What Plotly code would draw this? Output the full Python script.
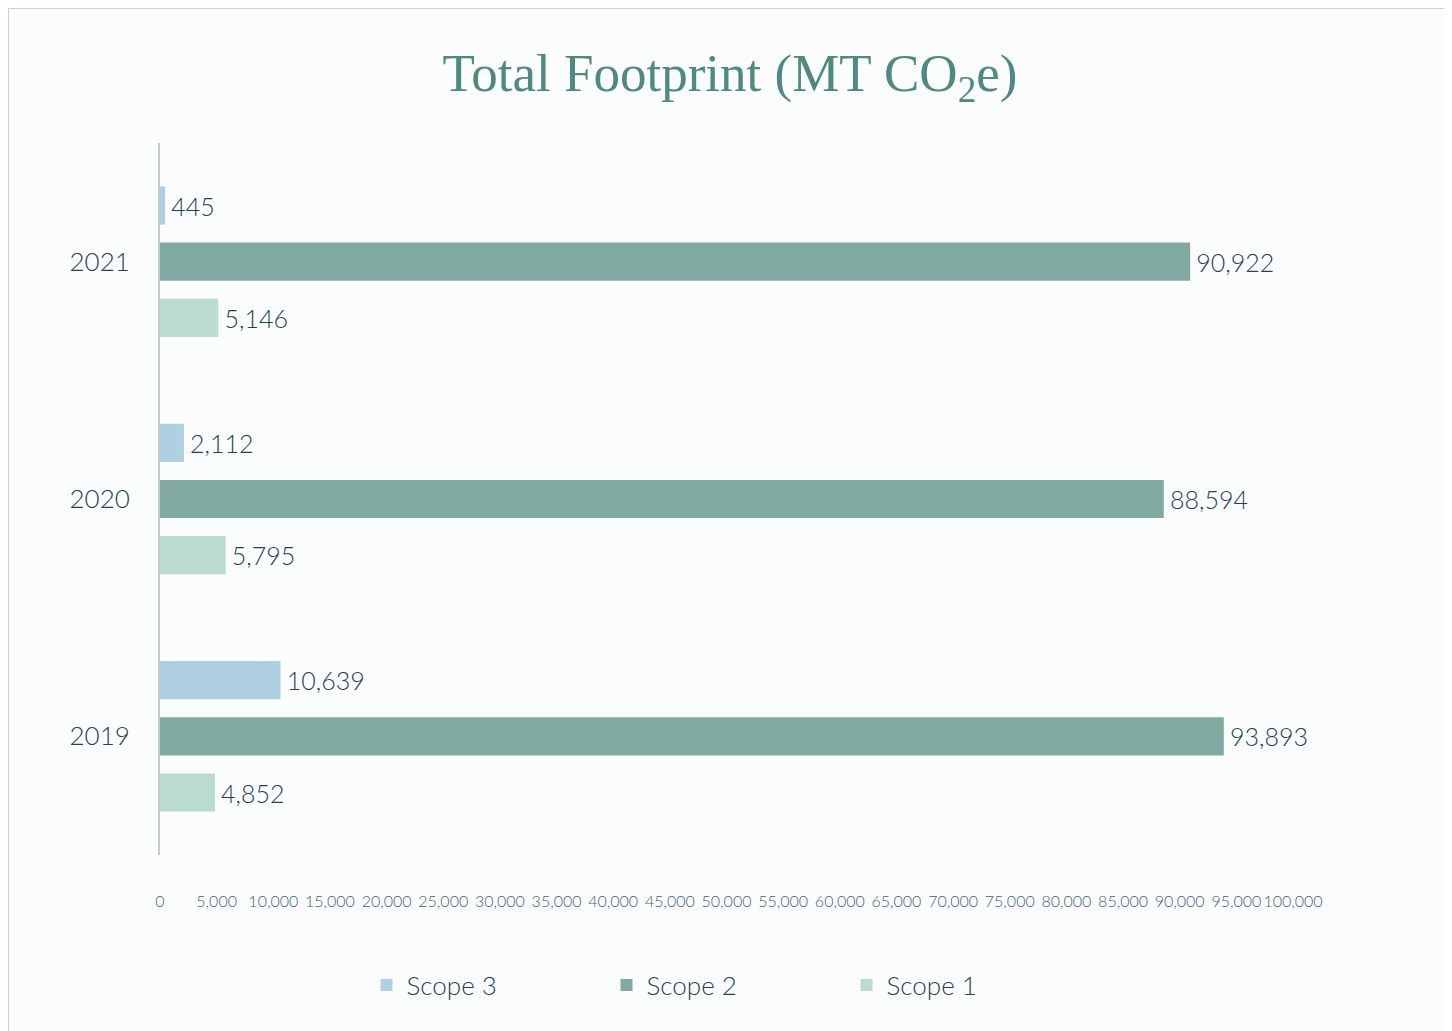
import plotly.graph_objects as go

years = ["2019", "2020", "2021"]
scope1 = [4852, 5795, 5146]
scope2 = [93893, 88594, 90922]
scope3 = [10639, 2112, 445]
series_names = ["Scope 1", "Scope 2", "Scope 3"]
colors = ["#b9dbd2", "#80aaa1", "#aed0e0"]

# page body has an 8px margin; compensate so the figure lands on target pixels
O = 8
W, H = 1452 - O, 1031 - O
ml, mt = 160 - O, 143 - O
pr, pb = 1293 - O, 855 - O
mr, mb = W - pr, H - pb
pw, ph = pr - ml, pb - mt

TXT = "#1f4257"

fig = go.Figure()
for name, vals, col in zip(series_names, [scope1, scope2, scope3], colors):
    fig.add_trace(go.Bar(
        y=years, x=vals, name=name, orientation="h",
        marker=dict(color=col, line=dict(width=0)),
        texttemplate="\u2009%{x:,}", textposition="outside",
        textfont=dict(family="Lato", size=25, color=TXT, weight=300),
        cliponaxis=False,
    ))

def px2x(p):
    return (p - O - ml) / pw

def py2y(p):
    return 1 - (p - O - mt) / ph

fig.add_shape(type="rect", xref="paper", yref="paper",
              x0=px2x(8), x1=px2x(1446), y0=py2y(1040), y1=py2y(8),
              line=dict(color="#c9d1d5", width=2), fillcolor="rgba(0,0,0,0)",
              layer="below")

fig.update_layout(
    width=W, height=H,
    margin=dict(l=ml, r=mr, t=mt, b=mb),
    paper_bgcolor="#fbfdfd", plot_bgcolor="#fbfdfd",
    barmode="group", bargap=0.29, bargroupgap=0.32,
    title=dict(text="Total Footprint (MT CO<sub>2</sub>e)",
               font=dict(family="Liberation Serif", size=53, color="#4e8a80"),
               x=0.5, xanchor="center", y=1 - (72 - O) / H, yanchor="middle"),
    showlegend=True,
    legend=dict(orientation="h", traceorder="reversed",
                x=0.5, xanchor="center", y=py2y(985), yanchor="middle",
                font=dict(family="Lato", size=26, color=TXT, weight=300),
                entrywidth=195, entrywidthmode="pixels",
                itemsizing="constant", bgcolor="rgba(0,0,0,0)"),
    xaxis=dict(range=[0, 100000], dtick=5000, tick0=0, tickformat=",",
               showgrid=False, zeroline=False, showline=False,
               tickfont=dict(family="Lato", size=16, color="#3f627a", weight=300),
               ticks="", ticklabelstandoff=35),
    yaxis=dict(showgrid=False, zeroline=False, showline=True,
               linecolor="#c5ccd0", linewidth=2, ticks="",
               tickfont=dict(family="Lato", size=26, color=TXT, weight=300),
               ticklabelstandoff=23),
)

fig.write_html("out.html")
